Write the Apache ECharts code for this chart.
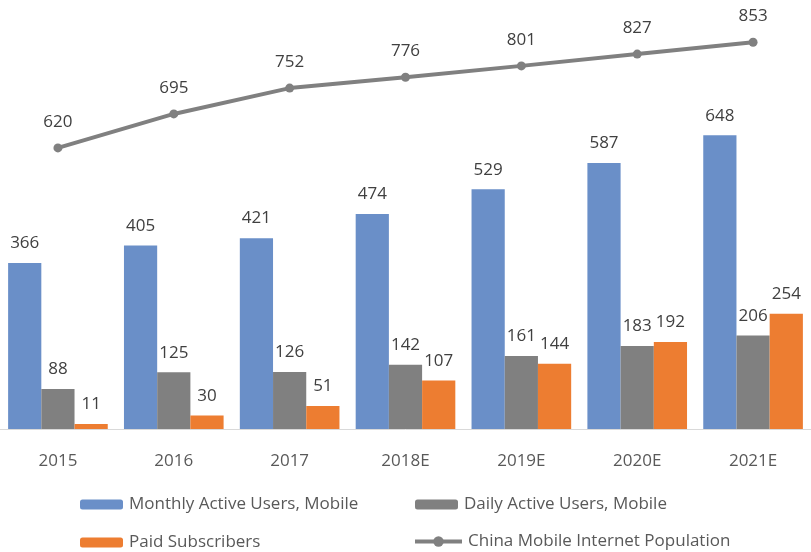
<!DOCTYPE html>
<html><head><meta charset="utf-8">
<script src="https://cdn.jsdelivr.net/npm/echarts@6/dist/echarts.min.js"></script>
<style>html,body{margin:0;padding:0;background:#fff}#c{width:811px;height:552px}</style>
</head><body><div id="c"></div>
<script>
const categories = ['2015','2016','2017','2018E','2019E','2020E','2021E'];
const mau = [366,405,421,474,529,587,648];
const dau = [88,125,126,142,161,183,206];
const paid = [11,30,51,107,144,192,254];
const population = [620,695,752,776,801,827,853];
const names = ['Monthly Active Users, Mobile','Daily Active Users, Mobile','Paid Subscribers','China Mobile Internet Population'];

const FONT = '"Open Sans", sans-serif';
const lbl = {show:true, position:'top', distance:11, color:'#404040', fontSize:17, fontFamily:FONT};
const chart = echarts.init(document.getElementById('c'));
const legendBase = {orient:'horizontal', itemWidth:43, itemHeight:10, itemGap:0, padding:0,
  textStyle:{color:'#595959', fontSize:17, fontFamily:FONT, padding:[0,0,0,1]}};
chart.setOption({
  animation:false,
  grid:{left:0, top:21, width:814, bottom:123, containLabel:false},
  xAxis:{type:'category', data:categories,
    axisLine:{lineStyle:{color:'#d9d9d9', width:1}}, axisTick:{show:false},
    axisLabel:{color:'#595959', fontSize:17, fontFamily:FONT, margin:24}},
  yAxis:{type:'value', min:0, max:900, show:false, splitLine:{show:false}},
  legend:[
    Object.assign({}, legendBase, {left:80, top:496, data:[names[0]]}),
    Object.assign({}, legendBase, {left:415, top:496, data:[names[1]]}),
    Object.assign({}, legendBase, {left:80, top:534, data:[names[2]]}),
    Object.assign({}, legendBase, {left:413, top:533, itemWidth:47, itemHeight:13, lineStyle:{width:4, color:'#808080'}, data:[names[3]]})
  ],
  series:[
    {name:names[0], type:'bar', data:mau, barGap:'0%', barCategoryGap:'14%', itemStyle:{color:'#6a8fc8'}, label:lbl},
    {name:names[1], type:'bar', data:dau, itemStyle:{color:'#808080'}, label:lbl},
    {name:names[2], type:'bar', data:paid, itemStyle:{color:'#ed7d31'}, label:lbl},
    {name:names[3], type:'line', data:population, symbol:'circle', symbolSize:9,
      lineStyle:{color:'#808080', width:4}, itemStyle:{color:'#808080'},
      label:Object.assign({}, lbl, {distance:13})}
  ]
});
</script></body></html>
